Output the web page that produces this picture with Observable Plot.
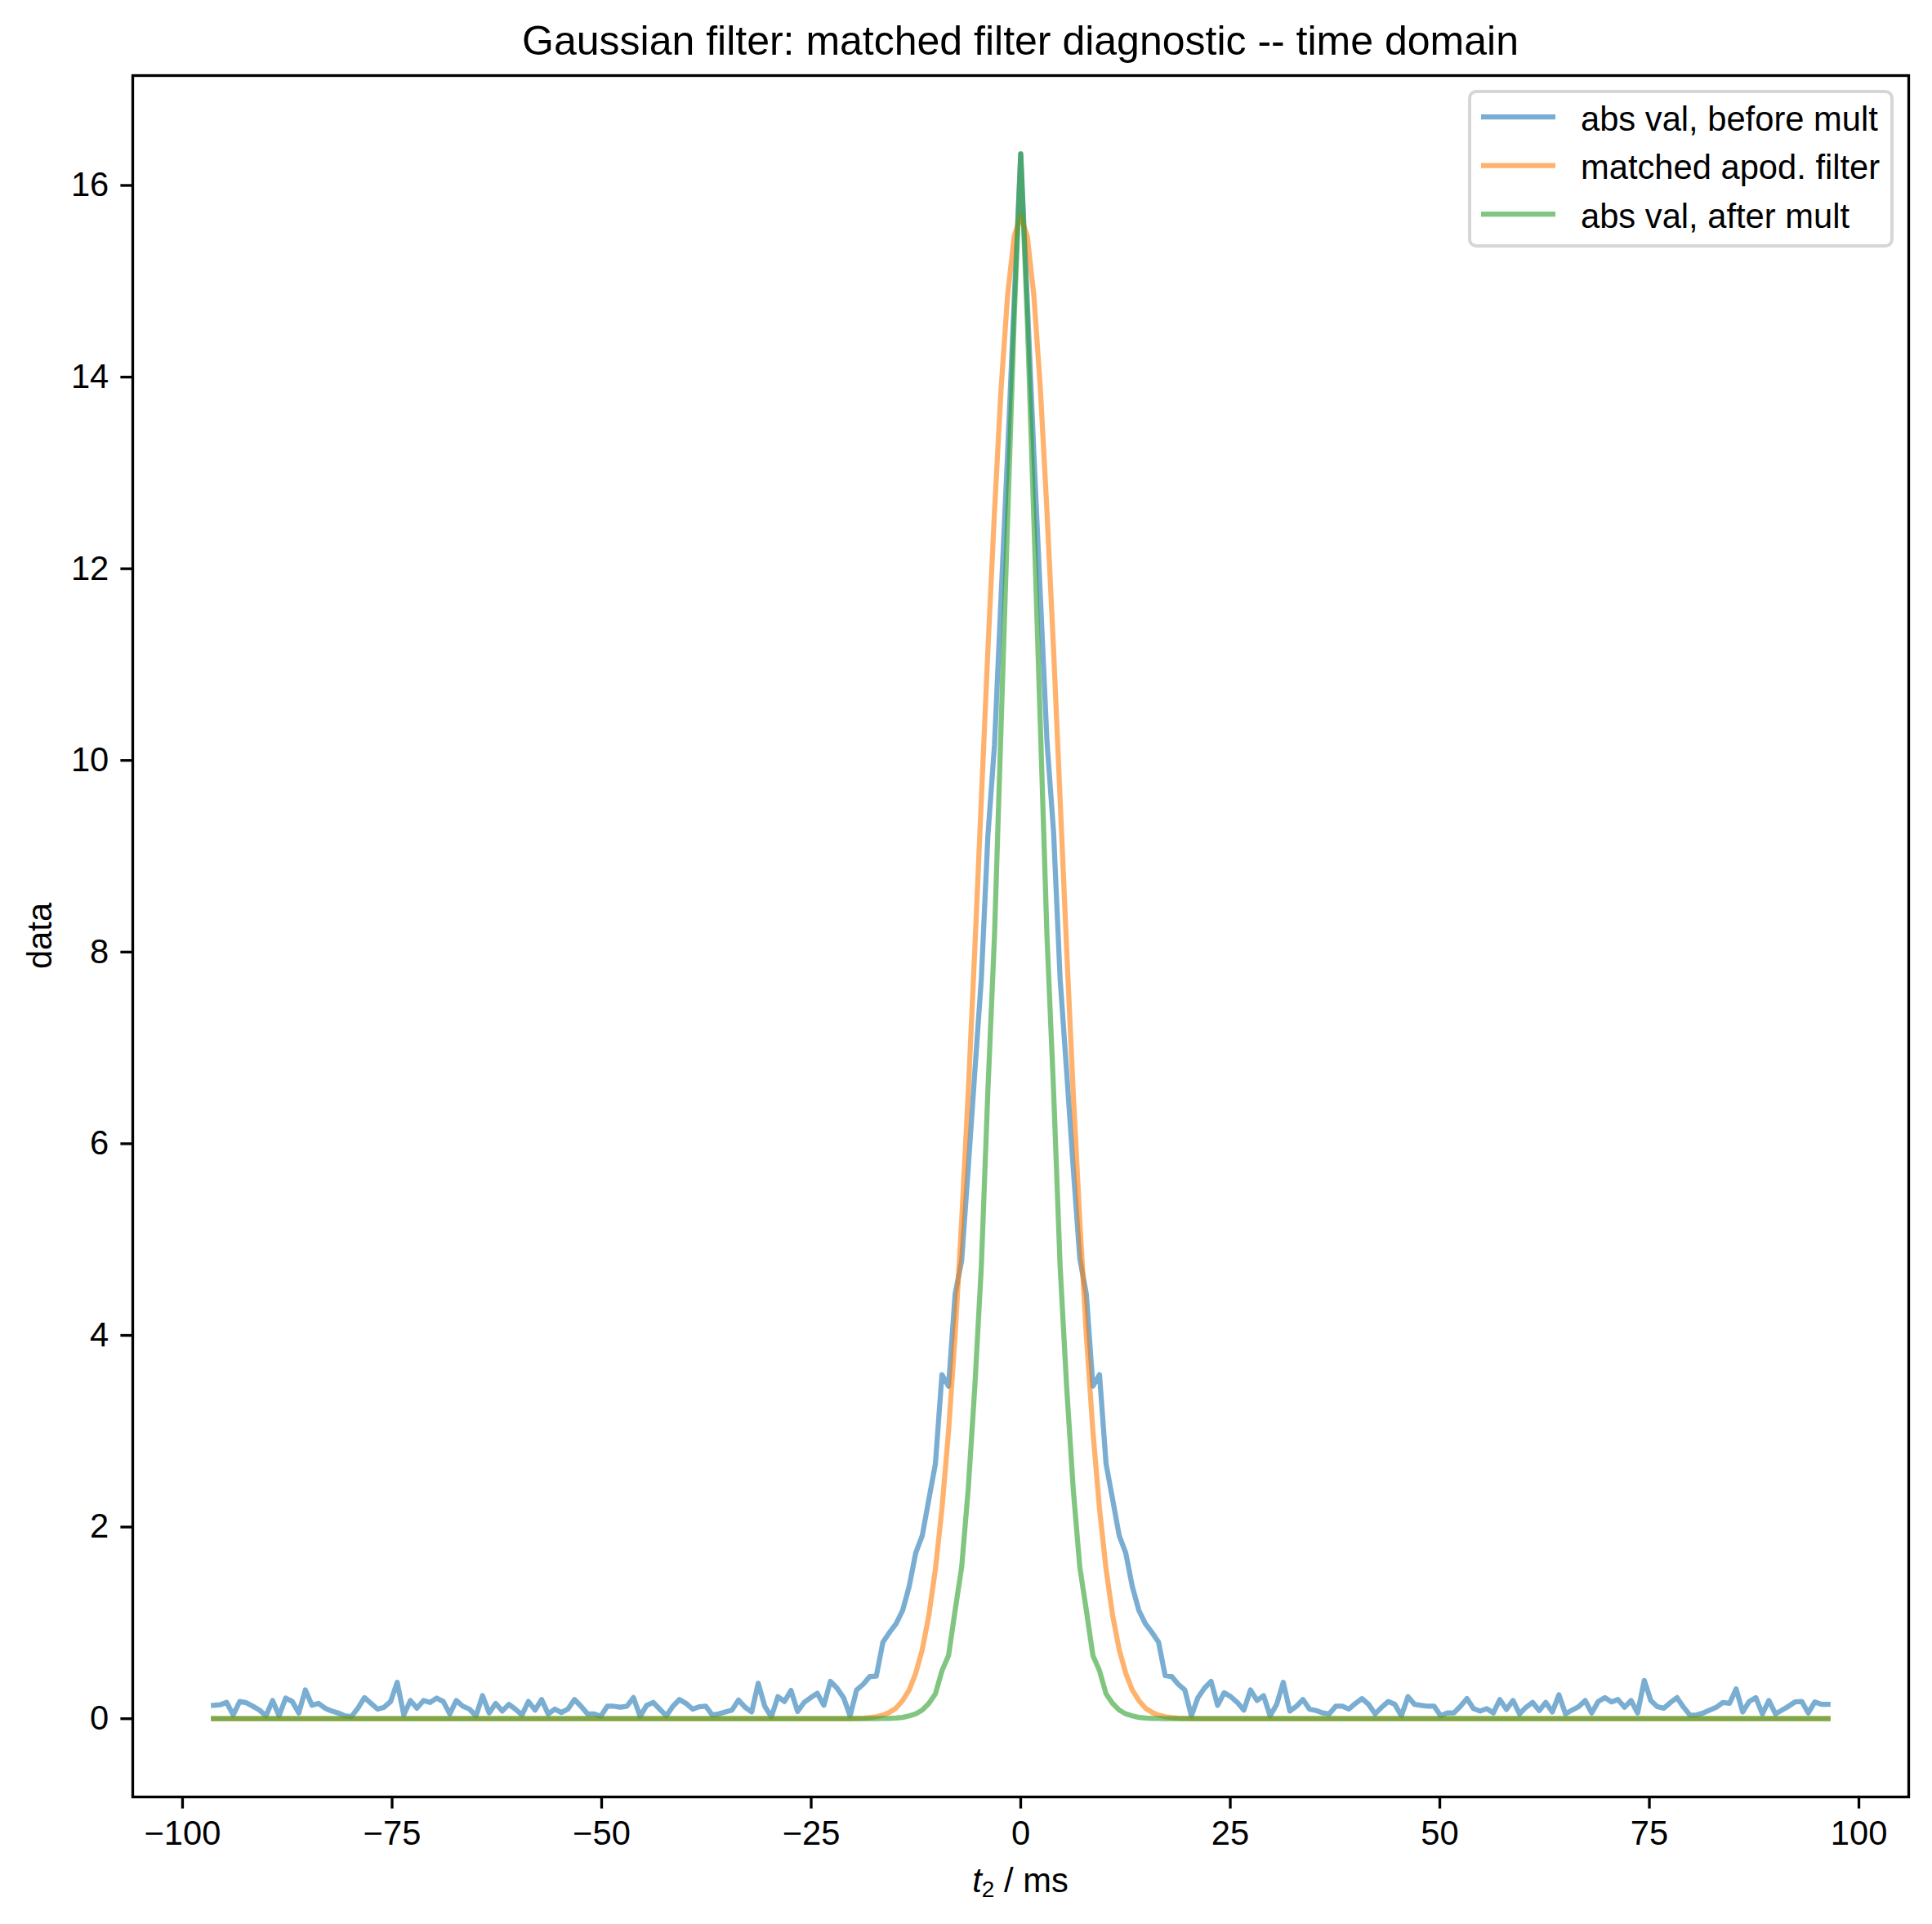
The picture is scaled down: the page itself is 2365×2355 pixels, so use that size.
<!DOCTYPE html>
<html>
<head>
<meta charset="utf-8">
<script src="https://cdn.jsdelivr.net/npm/d3@7"></script>
<script src="https://cdn.jsdelivr.net/npm/@observablehq/plot@0.6"></script>
<style>
  html, body { margin: 0; padding: 0; background: #ffffff; }
  #chart { width: 2365px; height: 2355px; }
</style>
</head>
<body>
<div id="chart"></div>
<script>
// ---------- data ----------
const t2 = [
  -96.31,-95.53,-94.74,-93.96,-93.18,-92.39,-91.61,-90.83,-90.05,-89.26,
  -88.48,-87.70,-86.91,-86.13,-85.35,-84.56,-83.78,-83.00,-82.22,-81.43,
  -80.65,-79.87,-79.08,-78.30,-77.52,-76.73,-75.95,-75.17,-74.39,-73.60,
  -72.82,-72.04,-71.25,-70.47,-69.69,-68.90,-68.12,-67.34,-66.56,-65.77,
  -64.99,-64.21,-63.42,-62.64,-61.86,-61.07,-60.29,-59.51,-58.73,-57.94,
  -57.16,-56.38,-55.59,-54.81,-54.03,-53.24,-52.46,-51.68,-50.90,-50.11,
  -49.33,-48.55,-47.76,-46.98,-46.20,-45.41,-44.63,-43.85,-43.07,-42.28,
  -41.50,-40.72,-39.93,-39.15,-38.37,-37.58,-36.80,-36.02,-35.24,-34.45,
  -33.67,-32.89,-32.10,-31.32,-30.54,-29.75,-28.97,-28.19,-27.41,-26.62,
  -25.84,-25.06,-24.27,-23.49,-22.71,-21.92,-21.14,-20.36,-19.58,-18.79,
  -18.01,-17.23,-16.44,-15.66,-14.88,-14.09,-13.31,-12.53,-11.75,-10.96,
  -10.18,-9.40,-8.61,-7.83,-7.05,-6.26,-5.48,-4.70,-3.92,-3.13,
  -2.35,-1.57,-0.78,
  0,
  0.78,1.57,2.35,
  3.13,3.92,4.70,5.48,6.26,7.05,7.83,8.61,9.40,10.18,
  10.96,11.75,12.53,13.31,14.09,14.88,15.66,16.44,17.23,18.01,
  18.79,19.58,20.36,21.14,21.92,22.71,23.49,24.27,25.06,25.84,
  26.62,27.41,28.19,28.97,29.75,30.54,31.32,32.10,32.89,33.67,
  34.45,35.24,36.02,36.80,37.58,38.37,39.15,39.93,40.72,41.50,
  42.28,43.07,43.85,44.63,45.41,46.20,46.98,47.76,48.55,49.33,
  50.11,50.90,51.68,52.46,53.24,54.03,54.81,55.59,56.38,57.16,
  57.94,58.73,59.51,60.29,61.07,61.86,62.64,63.42,64.21,64.99,
  65.77,66.56,67.34,68.12,68.90,69.69,70.47,71.25,72.04,72.82,
  73.60,74.39,75.17,75.95,76.73,77.52,78.30,79.08,79.87,80.65,
  81.43,82.22,83.00,83.78,84.56,85.35,86.13,86.91,87.70,88.48,
  89.26,90.05,90.83,91.61,92.39,93.18,93.96,94.74,95.53,96.31
];

const absBefore = [
  0.14,0.145,0.17,0.04,0.18,0.167,0.13,0.09,0.03,0.19,
  0.03,0.215,0.18,0.06,0.30,0.14,0.16,0.11,0.08,0.06,
  0.03,0.02,0.11,0.22,0.16,0.10,0.12,0.18,0.38,0.04,
  0.19,0.11,0.19,0.17,0.215,0.18,0.05,0.19,0.13,0.10,
  0.03,0.24,0.06,0.16,0.08,0.15,0.10,0.04,0.18,0.09,
  0.20,0.05,0.10,0.065,0.10,0.20,0.13,0.05,0.05,0.025,
  0.13,0.13,0.12,0.13,0.22,0.025,0.14,0.17,0.10,0.03,
  0.13,0.20,0.16,0.10,0.125,0.13,0.04,0.05,0.07,0.09,
  0.195,0.12,0.07,0.37,0.13,0.02,0.23,0.18,0.295,0.075,
  0.17,0.22,0.265,0.14,0.39,0.32,0.22,0.03,0.30,0.36,
  0.44,0.445,0.80,0.90,0.99,1.13,1.38,1.73,1.91,2.29,
  2.66,3.59,3.47,4.43,4.78,5.75,6.75,7.72,9.21,10.16,
  11.7,13.2,14.8,16.33,14.8,13.2,11.7,10.2,9.25,7.72,
  6.75,5.75,4.8,4.43,3.47,3.59,2.66,2.29,1.91,1.73,
  1.38,1.13,0.99,0.90,0.80,0.45,0.44,0.36,0.30,0.03,
  0.22,0.32,0.39,0.14,0.27,0.23,0.17,0.09,0.30,0.19,
  0.24,0.03,0.15,0.38,0.08,0.13,0.20,0.10,0.085,0.06,
  0.05,0.13,0.13,0.10,0.16,0.21,0.15,0.05,0.12,0.18,
  0.15,0.03,0.23,0.15,0.14,0.13,0.13,0.03,0.06,0.06,
  0.13,0.21,0.105,0.08,0.105,0.06,0.20,0.097,0.19,0.05,
  0.12,0.17,0.085,0.17,0.07,0.25,0.05,0.09,0.125,0.19,
  0.06,0.18,0.22,0.175,0.20,0.12,0.19,0.06,0.40,0.19,
  0.125,0.11,0.17,0.22,0.12,0.035,0.04,0.06,0.09,0.12,
  0.17,0.16,0.31,0.07,0.18,0.22,0.05,0.19,0.05,0.09,
  0.13,0.175,0.18,0.06,0.175,0.15,0.15
];

const matchedFilter = [
  0,0,0,0,0,0,0,0,0,0, 0,0,0,0,0,0,0,0,0,0, 0,0,0,0,0,0,0,0,0,0,
  0,0,0,0,0,0,0,0,0,0, 0,0,0,0,0,0,0,0,0,0, 0,0,0,0,0,0,0,0,0,0,
  0,0,0,0,0,0,0,0,0,0, 0,0,0,0,0,0,0,0,0,0, 0,0,0,0,0,0,0,0,0,0,
  0,0,0,0,0,0,0,0,
  0.003,0.006,0.011,0.021,0.038,0.066,0.11,0.19,0.30,0.475,0.72,1.08,1.56,
  2.19,3.0,4.0,5.19,6.54,8.03,9.59,11.15,12.6,13.87,14.85,15.47,15.68,
  15.47,14.85,13.87,12.6,11.15,9.59,8.03,6.54,5.19,4.0,3.0,2.19,1.56,
  1.08,0.72,0.475,0.30,0.19,0.11,0.066,0.038,0.021,0.011,0.006,0.003,
  0,0,0,0,0,0,0,0,0,0, 0,0,0,0,0,0,0,0,0,0, 0,0,0,0,0,0,0,0,0,0,
  0,0,0,0,0,0,0,0,0,0, 0,0,0,0,0,0,0,0,0,0, 0,0,0,0,0,0,0,0,0,0,
  0,0,0,0,0,0,0,0,0,0, 0,0,0,0,0,0,0,0,0,0, 0,0,0,0,0,0,0,0,0,0,
  0,0,0,0,0,0,0,0
];

const absAfter = [
  0,0,0,0,0,0,0,0,0,0, 0,0,0,0,0,0,0,0,0,0, 0,0,0,0,0,0,0,0,0,0,
  0,0,0,0,0,0,0,0,0,0, 0,0,0,0,0,0,0,0,0,0, 0,0,0,0,0,0,0,0,0,0,
  0,0,0,0,0,0,0,0,0,0, 0,0,0,0,0,0,0,0,0,0, 0,0,0,0,0,0,0,0,0,0,
  0,0,0,0,0,0,0,0,0,0, 0,0,
  0.002,0.004,0.007,0.014,0.03,0.05,0.09,0.16,0.26,0.50,0.66,
  1.13,1.58,2.40,3.46,4.72,6.55,8.17,10.34,12.50,14.61,16.33,
  14.61,12.50,10.34,8.17,6.55,4.72,3.46,2.40,1.58,1.13,0.66,
  0.50,0.26,0.16,0.09,0.05,0.03,0.014,0.007,0.004,0.002,
  0,0,0,0,0,0,0,0,0,0, 0,0,0,0,0,0,0,0,0,0, 0,0,0,0,0,0,0,0,0,0,
  0,0,0,0,0,0,0,0,0,0, 0,0,0,0,0,0,0,0,0,0, 0,0,0,0,0,0,0,0,0,0,
  0,0,0,0,0,0,0,0,0,0, 0,0,0,0,0,0,0,0,0,0, 0,0,0,0,0,0,0,0,0,0,
  0,0,0,0,0,0,0,0,0,0, 0,0
];

const seriesNames = ["abs val, before mult", "matched apod. filter", "abs val, after mult"];
const seriesColors = ["#1f77b4", "#ff7f0e", "#2ca02c"];
const xTicks = [-100, -75, -50, -25, 0, 25, 50, 75, 100];
const yTicks = [0, 2, 4, 6, 8, 10, 12, 14, 16];
const titleText = "Gaussian filter: matched filter diagnostic -- time domain";
const xLabelMain = "t";
const xLabelSub = "2";
const xLabelRest = " / ms";
const yLabelText = "data";

// ---------- layout ----------
const W = 2365, H = 2355;
const M = {top: 92, right: 29, bottom: 156, left: 162};
const FS = 41.7;          // 10 pt at 300 dpi
const LW = 6.25;          // 1.5 pt lines
const SPINE = 3.33;       // 0.8 pt spines
const TICK = 14.6;        // 3.5 pt
const FONT = '"Liberation Sans", Arial, Helvetica, sans-serif';

const allSeries = [absBefore, matchedFilter, absAfter];
allSeries.forEach((s, i) => { if (s.length !== t2.length) console.warn("length mismatch", i, s.length, t2.length); });

function toRows(vals) {
  const n = Math.min(vals.length, t2.length);
  const out = [];
  for (let i = 0; i < n; i++) out.push({t: t2[i], v: vals[i]});
  return out;
}

const tExt = d3.extent(t2);
const tPad = 0.05 * (tExt[1] - tExt[0]);
const vMax = d3.max(allSeries.flat());
const vMin = d3.min(allSeries.flat());
const vPad = 0.05 * (vMax - vMin);

const fmt = d => (d < 0 ? "\u2212" + Math.abs(d) : String(d));

const chart = Plot.plot({
  width: W,
  height: H,
  marginTop: M.top,
  marginRight: M.right,
  marginBottom: M.bottom,
  marginLeft: M.left,
  style: {fontFamily: FONT, fontSize: FS + "px", background: "#ffffff", color: "#000000", overflow: "visible"},
  x: {domain: [tExt[0] - tPad, tExt[1] + tPad]},
  y: {domain: [vMin - vPad, vMax + vPad]},
  marks: [
    ...allSeries.map((vals, i) => Plot.line(toRows(vals), {
      x: "t", y: "v",
      stroke: seriesColors[i], strokeWidth: LW, strokeOpacity: 0.6,
      strokeLinejoin: "round", strokeLinecap: "square"
    })),
    Plot.frame({stroke: "#000000", strokeWidth: SPINE}),
    Plot.axisX({ticks: xTicks, tickSize: TICK, tickPadding: TICK, strokeWidth: SPINE, tickFormat: fmt, label: null, fontSize: FS}),
    Plot.axisY({ticks: yTicks, tickSize: TICK, tickPadding: TICK, strokeWidth: SPINE, tickFormat: fmt, label: null, fontSize: FS})
  ]
});

document.getElementById("chart").appendChild(chart);

// ---------- title, axis labels, legend ----------
const svg = d3.select(chart);
const cx = (M.left + (W - M.right)) / 2;
const cy = (M.top + (H - M.bottom)) / 2;

svg.append("text")
  .attr("x", cx).attr("y", 67)
  .attr("text-anchor", "middle")
  .attr("font-family", FONT).attr("font-size", 50).attr("fill", "#000")
  .text(titleText);

const xl = svg.append("text")
  .attr("x", cx).attr("y", 2316)
  .attr("text-anchor", "middle")
  .attr("font-family", FONT).attr("font-size", FS).attr("fill", "#000");
xl.append("tspan").attr("font-style", "italic").text(xLabelMain);
xl.append("tspan").attr("font-size", 28).attr("dy", 6).text(xLabelSub);
xl.append("tspan").attr("dy", -6).text(xLabelRest);

svg.append("text")
  .attr("transform", `translate(63,${cy}) rotate(-90)`)
  .attr("text-anchor", "middle")
  .attr("font-family", FONT).attr("font-size", FS).attr("fill", "#000")
  .text(yLabelText);

const lg = svg.append("g").attr("text-anchor", "start");
lg.append("rect")
  .attr("x", 1799).attr("y", 112).attr("width", 517).attr("height", 189)
  .attr("rx", 8).attr("ry", 8)
  .attr("fill", "#ffffff").attr("fill-opacity", 0.8)
  .attr("stroke", "#cccccc").attr("stroke-opacity", 0.8).attr("stroke-width", 4);
seriesNames.forEach((name, i) => {
  const y = 143 + i * 59.5;
  lg.append("line")
    .attr("x1", 1813).attr("x2", 1904).attr("y1", y).attr("y2", y)
    .attr("stroke", seriesColors[i]).attr("stroke-opacity", 0.6)
    .attr("stroke-width", LW).attr("stroke-linecap", "butt");
  lg.append("text")
    .attr("x", 1935).attr("y", y).attr("dy", "0.4em")
    .attr("text-anchor", "start")
    .attr("font-family", FONT).attr("font-size", FS).attr("fill", "#000")
    .text(name);
});
</script>
</body>
</html>
